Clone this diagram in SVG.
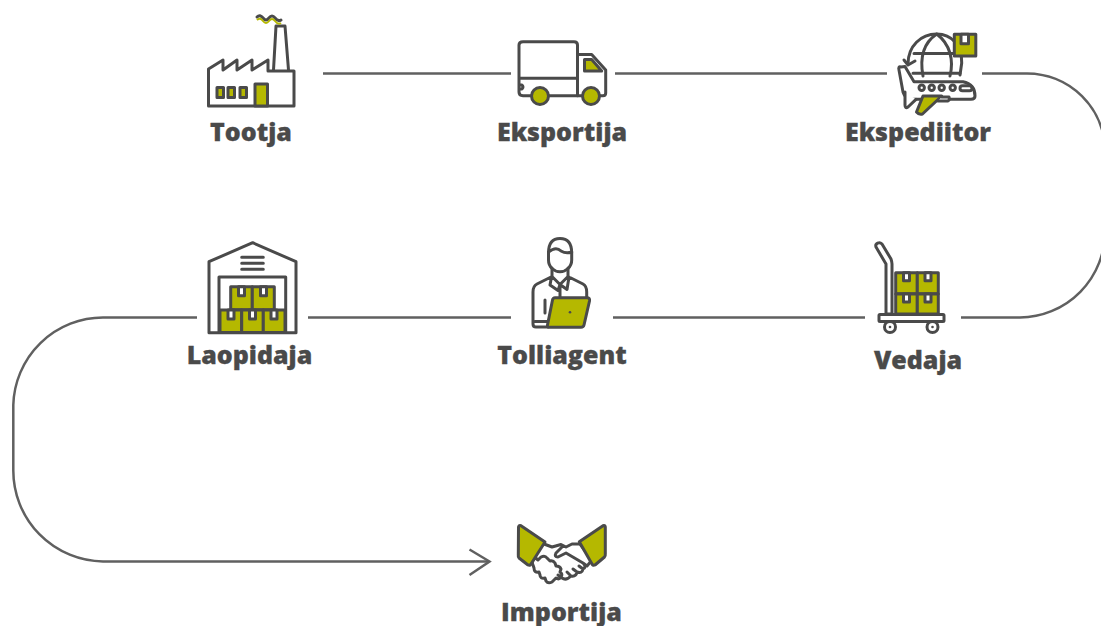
<svg xmlns="http://www.w3.org/2000/svg" width="1101" height="626" viewBox="0 0 1101 626">
<style>
.i{fill:none;stroke:#4a4a4a;stroke-width:3;stroke-linejoin:round;stroke-linecap:round}
.f{fill:#b5b800;stroke:#4a4a4a;stroke-width:3;stroke-linejoin:round;stroke-linecap:round}
.w{fill:#fff;stroke:#4a4a4a;stroke-width:3;stroke-linejoin:round;stroke-linecap:round}
.c{fill:none;stroke:#606060;stroke-width:2.500}
text{font-family:"Open Sans","Liberation Sans",sans-serif;font-weight:800;font-size:25px;fill:#4a4a4a;stroke:#4a4a4a;stroke-width:.3;text-anchor:middle}
</style>
<rect width="1101" height="626" fill="#fff"/>
<g id="connectors">
<path class="c" d="M323 73.500H511M615 73.500H887M982 73.500H1027A78 78 0 0 1 1105 151V231A86 86 0 0 1 1020 317.500H961"/>
<path class="c" d="M865 317.500H613M511 317.500H308M197 317.500H103A90 90 0 0 0 13.300 405V470A91 91 0 0 0 103 561.500H489"/>
<path class="c" d="M469.500 549.500L489.500 561.500L469.500 575"/>
</g>
<g id="tootja">
<path class="i" d="M273.500 70L276 26H285L288.500 70"/>
<path class="i" d="M208.500 106V69L223 60V70L237 60V70L252 60V70L268 60V71H294V106Z"/>
<rect class="f" x="217" y="87.500" width="6.500" height="10"/>
<rect class="f" x="228" y="87.500" width="6.500" height="10"/>
<rect class="f" x="240" y="87.500" width="6.500" height="10"/>
<rect class="f" x="255" y="84" width="12.500" height="22"/>
<path class="i" d="M257 17Q260 14 263 18T269 18T275 18T281 20"/>
<path d="M257 20Q260 17 263 21T269 21T275 21T281 23" fill="none" stroke="#b5b800" stroke-width="2"/>
<text x="251" y="141">Tootja</text>
</g>
<g id="eksportija">
<path class="i" d="M533 95.700H523Q519 95.700 519 92V45Q519 41.700 523 41.700H574Q577.500 41.700 577.500 45V95.700H549M519 78.300H577.500M519 85H522Q524 87 522 89H519"/>
<path class="i" d="M577.500 54.500H591.700L605.700 70V93Q605.700 95.700 603 95.700H599M583 95.700H577.500"/>
<path class="f" d="M584.500 59.500H591.700L601.700 71H584.500Z"/>
<circle class="f" cx="540" cy="96" r="8.500"/>
<circle class="f" cx="591" cy="96" r="8.500"/>
<text x="562" y="141">Eksportija</text>
</g>
<g id="ekspediitor">
<path class="i" d="M908 64C908 46 921 34 936.700 34C952 34 962 46 961.700 63L960 75"/>
<path class="i" d="M904 60L908 65L915 61"/>
<path class="i" d="M923 76C920 60 922 44 936.700 34C950 44 954 60 950 76M914 53.500H955M913 73.300H960"/>
<rect class="f" x="954.300" y="34.300" width="21.500" height="21.700"/>
<rect class="w" x="961" y="34.300" width="7.500" height="9.500"/>
<path class="w" d="M899 70Q898 66 901 67L905 66.500L914 81.700H963Q975 84 975 96Q975 99.300 971 99.300H913Q905 99 903 92Z"/>
<path class="w" d="M905 92V105Q905 109 908 107L916 99.300"/>
<path class="f" d="M923 96H941.700L922.500 114Q919 115 916.500 112Z"/>
<path class="w" d="M941.700 97H949Q950 100 948 101H938"/>
<circle class="i" cx="921.700" cy="87.700" r="2.700"/>
<circle class="i" cx="931.700" cy="87.700" r="2.700"/>
<circle class="i" cx="941.700" cy="87.700" r="2.700"/>
<circle class="i" cx="952.700" cy="87.700" r="2.700"/>
<rect class="i" x="960" y="85.700" width="12" height="5" rx="2.500"/>
<text x="918" y="141">Ekspediitor</text>
</g>
<g id="laopidaja">
<path class="i" d="M209 332.700V261.700L252.700 242.700L296 261.700V332.700Z"/>
<path class="i" d="M219 332V277H285.700V332M241.700 257.300H263.300M241.700 263.300H263.300M241.700 269.300H263.300"/>
<rect class="f" x="230.700" y="286.700" width="21.600" height="23"/>
<rect class="f" x="252.300" y="286.700" width="22" height="23"/>
<rect class="f" x="220" y="310" width="21.700" height="22.500"/>
<rect class="f" x="241.700" y="310" width="21.600" height="22.500"/>
<rect class="f" x="263.300" y="310" width="21.700" height="22.500"/>
<rect class="w" x="238.500" y="286.700" width="6" height="9"/>
<rect class="w" x="260.500" y="286.700" width="6" height="9"/>
<rect class="w" x="228" y="310" width="6" height="9"/>
<rect class="w" x="249.500" y="310" width="6" height="9"/>
<rect class="w" x="271" y="310" width="6" height="9"/>
<text x="249.500" y="364">Laopidaja</text>
</g>
<g id="tolliagent">
<path class="i" d="M548.500 253C548.500 243 553 238.500 560 238.500S571.700 243 571.700 253V260C571.700 267 566 271.700 560 271.700S548.500 267 548.500 260Z"/>
<path class="i" d="M548.500 252Q556 246 561 251Q566 254 571.700 252M552 268V276.500L537 284Q533 286 533 292V324Q533 327 536 327H548M568 268V276.500L583 284Q586.700 286 586.700 292V298M551.500 277L550 285L558 290.500L560 284.500L567 289.500L569 277M552 276.500L560 284.500L568 276.500M560 285V298M545 300V313M535 321.500H549"/>
<path class="f" d="M555 297.700H587Q590 297.700 589.500 301L584 325Q583.500 327.300 581 327.300H549Q547 327.300 547.500 325L552.500 300Q553 297.700 555 297.700Z"/>
<circle cx="570" cy="312.300" r="1.300" fill="#4a4a4a"/>
<text x="562" y="364">Tolliagent</text>
</g>
<g id="vedaja">
<path class="w" d="M876 247Q875 244 878 243Q880 242 882 244L891 259Q892 262 892 264V314H886V264L876 247Z"/>
<rect class="f" x="895.700" y="272.700" width="21.600" height="21"/>
<rect class="f" x="917.300" y="272.700" width="21" height="21"/>
<rect class="f" x="895.700" y="294" width="21.600" height="20"/>
<rect class="f" x="917.300" y="294" width="21" height="20"/>
<rect class="w" x="903.500" y="272.700" width="6" height="8"/>
<rect class="w" x="925" y="272.700" width="6" height="8"/>
<rect class="w" x="903.500" y="294" width="6" height="8"/>
<rect class="w" x="925" y="294" width="6" height="8"/>
<rect class="w" x="879" y="314.500" width="65" height="7" rx="1"/>
<circle class="w" cx="890" cy="327" r="5.500"/>
<circle class="w" cx="932.500" cy="327" r="5.500"/>
<circle cx="890" cy="327" r="1.300" fill="#4a4a4a"/>
<circle cx="932.500" cy="327" r="1.300" fill="#4a4a4a"/>
<text x="918" y="369">Vedaja</text>
</g>
<g id="importija">
<path class="i" d="M544 544L552 547L561 544.500L566 547L572 544L580 544L592 560L587 566L583 563M562 547L556 553Q554 557 558 557L566 553L583 563Q587 567 583 569L579 566M583 569Q582 574 577 572L573 569M577 572Q576 577 571 576L567 572M571 576Q566 581 562 578L558 575"/>
<path class="i" d="M535 557.500L538 560L541 557Q545 555 547 558L550 561Q553 560 555 563L556 566Q560 566 561 569L560 572Q563 574 561 577Q559 580 556 578L552 582Q548 584 546 581L545 578Q540 579 540 575L539 572Q534 573 534 568L533 565Q531 562 535 557.500Z"/>
<path class="f" d="M521 525.700L545 542L531 564Q530 566 528 565L519 558Q518 557 518.300 555L518.500 527Q519 525 521 525.700Z"/>
<path class="f" d="M603 525.700L579.300 541.700L592 564Q593 566 595 565L604.500 557Q605.500 556 605.300 554V527Q605 525 603 525.700Z"/>
<text x="561.500" y="621">Importija</text>
</g>
</svg>
